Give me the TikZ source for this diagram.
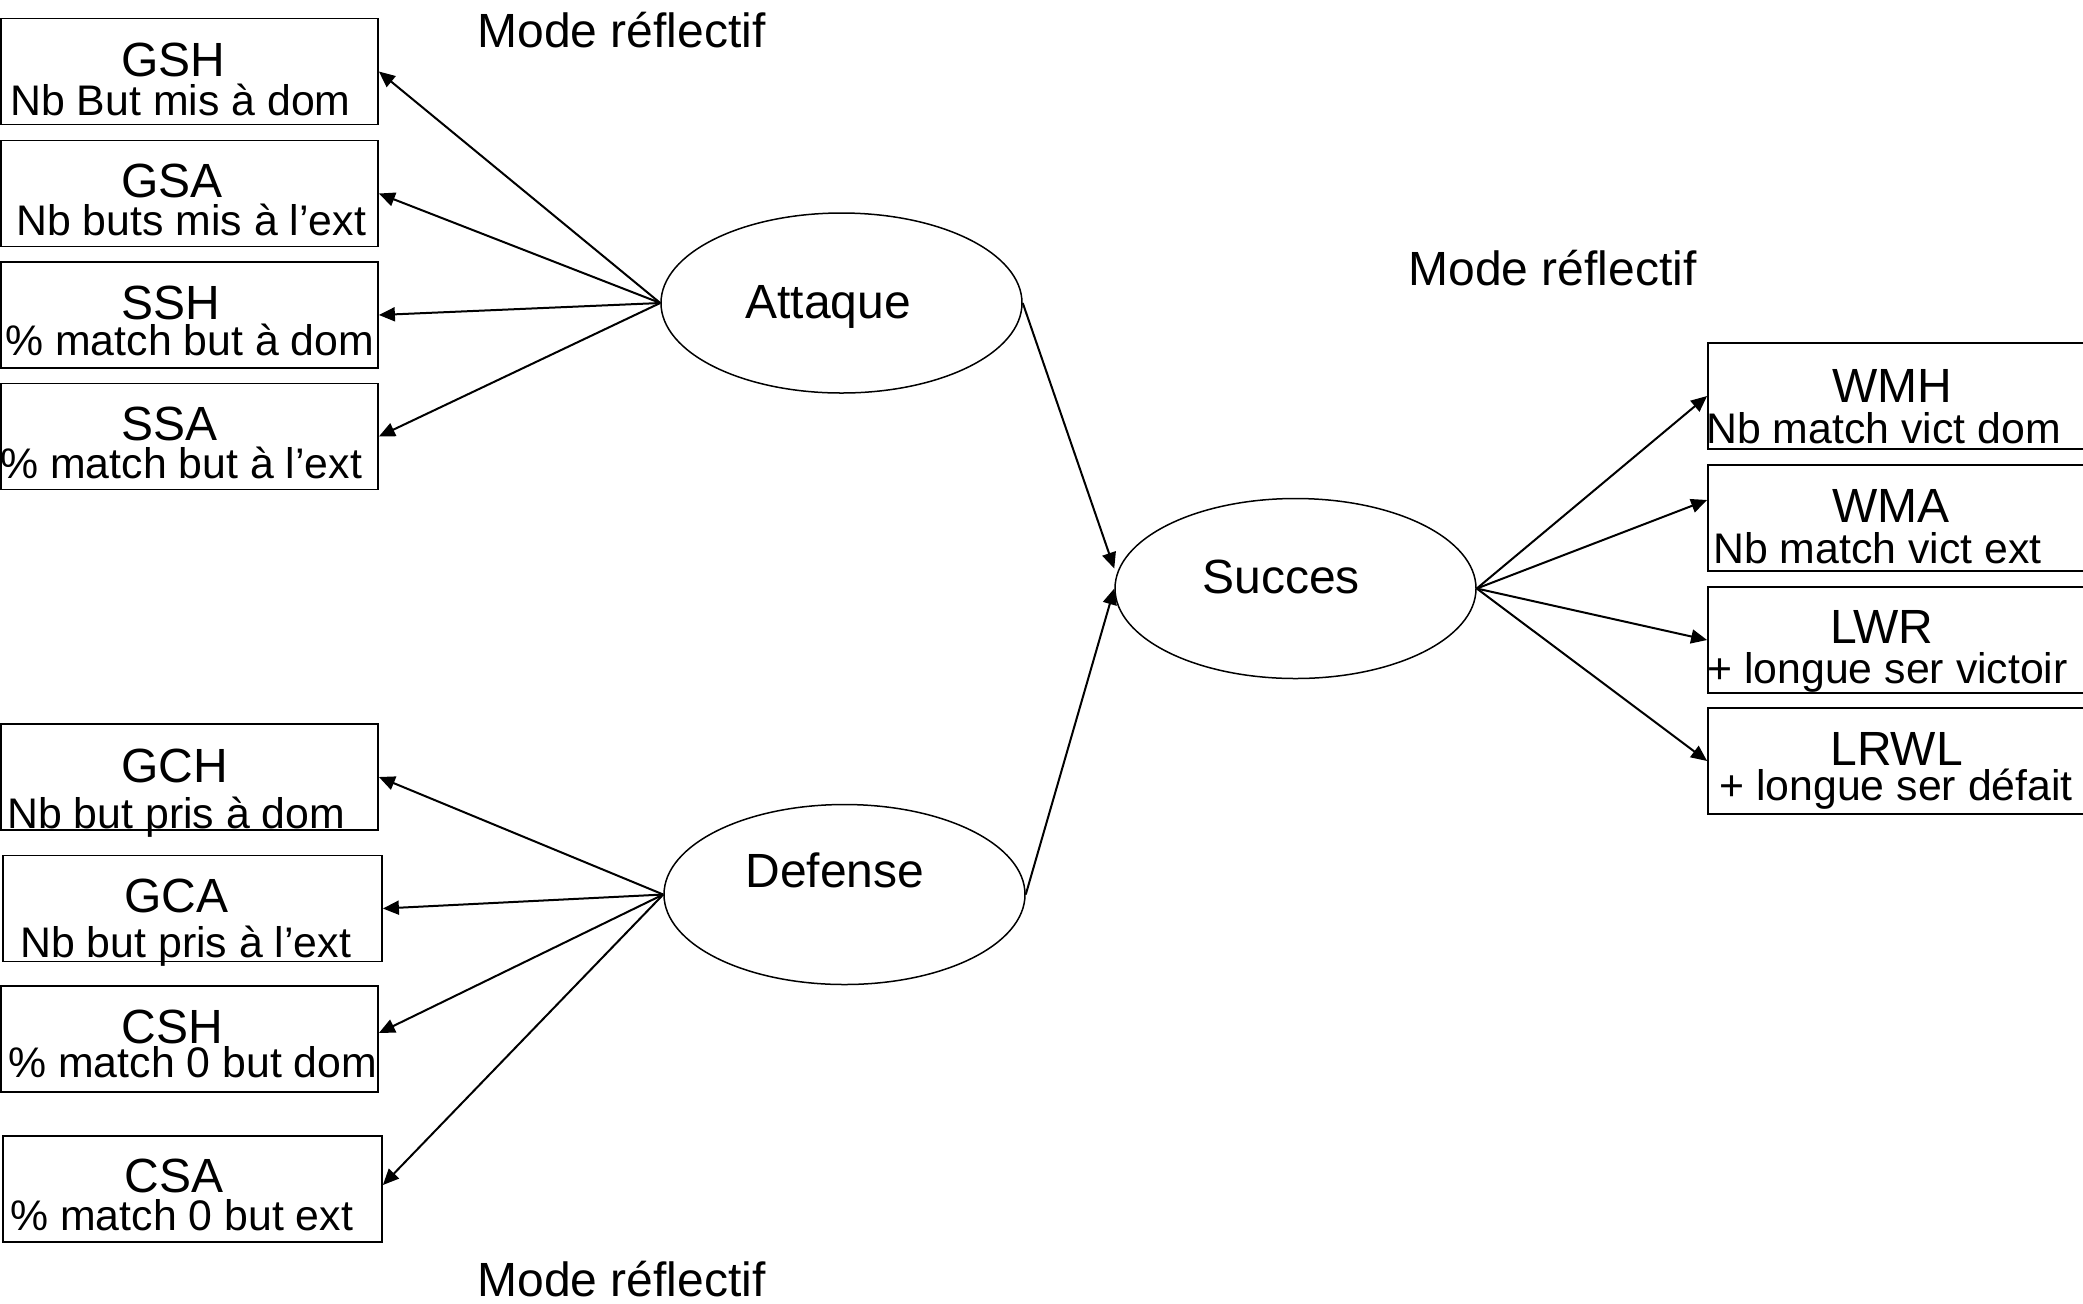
\documentclass[tikz,border=0pt]{standalone}
\usepackage{fontspec}
\setmainfont{Liberation Sans}
\usetikzlibrary{arrows.meta,shapes.geometric}
\begin{document}
\begin{tikzpicture}[x=0.5pt,y=-0.5pt,
  box/.style={draw, line width=0.9pt, rectangle, inner sep=0pt, minimum height=53pt},
  lbox/.style={box, minimum width=188.5pt},
  lboxb/.style={box, minimum width=189.5pt},
  rbox/.style={box, minimum width=196pt},
  lat/.style={draw, line width=0.75pt, ellipse, inner sep=0pt, minimum width=180.5pt, minimum height=90pt},
  big/.style={anchor=base west, inner sep=0pt, font=\fontsize{24}{28}\selectfont},
  small/.style={anchor=base west, inner sep=0pt, font=\fontsize{21.4}{25}\selectfont},
  arr/.style={-{Triangle[length=8pt,width=7pt]}, line width=1pt}]
\useasboundingbox (0,0) rectangle (2083,1303);
\clip (0,0) rectangle (2083,1303);

% left boxes (attack)
\node[lbox] (gsh) at (189.5,71.5) {};
\node[lbox] (gsa) at (189.5,193.5) {};
\node[lbox] (ssh) at (189.5,315) {};
\node[lbox] (ssa) at (189.5,436.5) {};
% left boxes (defense)
\node[lbox]  (gch) at (189.5,777) {};
\node[lboxb] (gca) at (192.5,908.5) {};
\node[lbox]  (csh) at (189.5,1039) {};
\node[lboxb] (csa) at (192.5,1189) {};
% right boxes
\node[rbox] (wmh) at (1904,396) {};
\node[rbox] (wma) at (1904,518) {};
\node[rbox] (lwr) at (1904,640) {};
\node[rbox] (lrwl) at (1904,761) {};

% latent variables
\node[lat] (att) at (841.5,303) {};
\node[lat] (suc) at (1295.5,588.5) {};
\node[lat] (def) at (844.5,894.5) {};

% labels in boxes
\node[big] (tgsh) at (121,76) {GSH};
\node[small] (sgsh) at (10,115) {Nb But mis à dom};
\node[big] (tgsa) at (121,197) {GSA};
\node[small] (sgsa) at (16,235) {Nb buts mis à l’ext};
\node[big] (tssh) at (121,319) {SSH};
\node[small] (sssh) at (5,355) {\% match but à dom};
\node[big] (tssa) at (121,440) {SSA};
\node[small] (sssa) at (0,478) {\% match but à l’ext};

\node[big] (tgch) at (121,782) {GCH};
\node[small] (sgch) at (7,828) {Nb but pris à dom};
\node[big] (tgca) at (124,912) {GCA};
\node[small] (sgca) at (20,957) {Nb but pris à l’ext};
\node[big] (tcsh) at (121,1043) {CSH};
\node[small] (scsh) at (8,1077) {\% match 0 but dom};
\node[big] (tcsa) at (124,1192) {CSA};
\node[small] (scsa) at (10,1230) {\% match 0 but ext};

\node[big] (twmh) at (1832,402) {WMH};
\node[small] (swmh) at (1706,443) {Nb match vict dom};
\node[big] (twma) at (1832,522) {WMA};
\node[small] (swma) at (1713,563) {Nb match vict ext};
\node[big] (tlwr) at (1830,643) {LWR};
\node[small] (slwr) at (1707,683) {+ longue ser victoir};
\node[big] (tlrwl) at (1830,765) {LRWL};
\node[small] (slrwl) at (1719,800) {+ longue ser défait};

% labels in ellipses
\node[big] (tatt) at (745,318) {Attaque};
\node[big] (tsuc) at (1202,593) {Succes};
\node[big] (tdef) at (745,887) {Defense};

% mode labels
\node[big] (m1) at (477,47) {Mode réflectif};
\node[big] (m2) at (1408,285) {Mode réflectif};
\node[big] (m3) at (477,1296) {Mode réflectif};

% arrows
\draw[arr] (att.west) -- (gsh.east);
\draw[arr] (att.west) -- (gsa.east);
\draw[arr] (att.west) -- (ssh.east);
\draw[arr] (att.west) -- (ssa.east);
\draw[arr] (def.west) -- (gch.east);
\draw[arr] (def.west) -- (gca.east);
\draw[arr] (def.west) -- ([yshift=3pt]csh.east);
\draw[arr] (def.west) -- ([yshift=2pt]csa.east);
\draw[arr] (att.east) -- ([yshift=10pt]suc.west);
\draw[arr] (def.east) -- (suc.west);
\draw[arr] (suc.east) -- (wmh.west);
\draw[arr] (suc.east) -- ([yshift=9pt]wma.west);
\draw[arr] (suc.east) -- (lwr.west);
\draw[arr] (suc.east) -- (lrwl.west);
\end{tikzpicture}
\end{document}
